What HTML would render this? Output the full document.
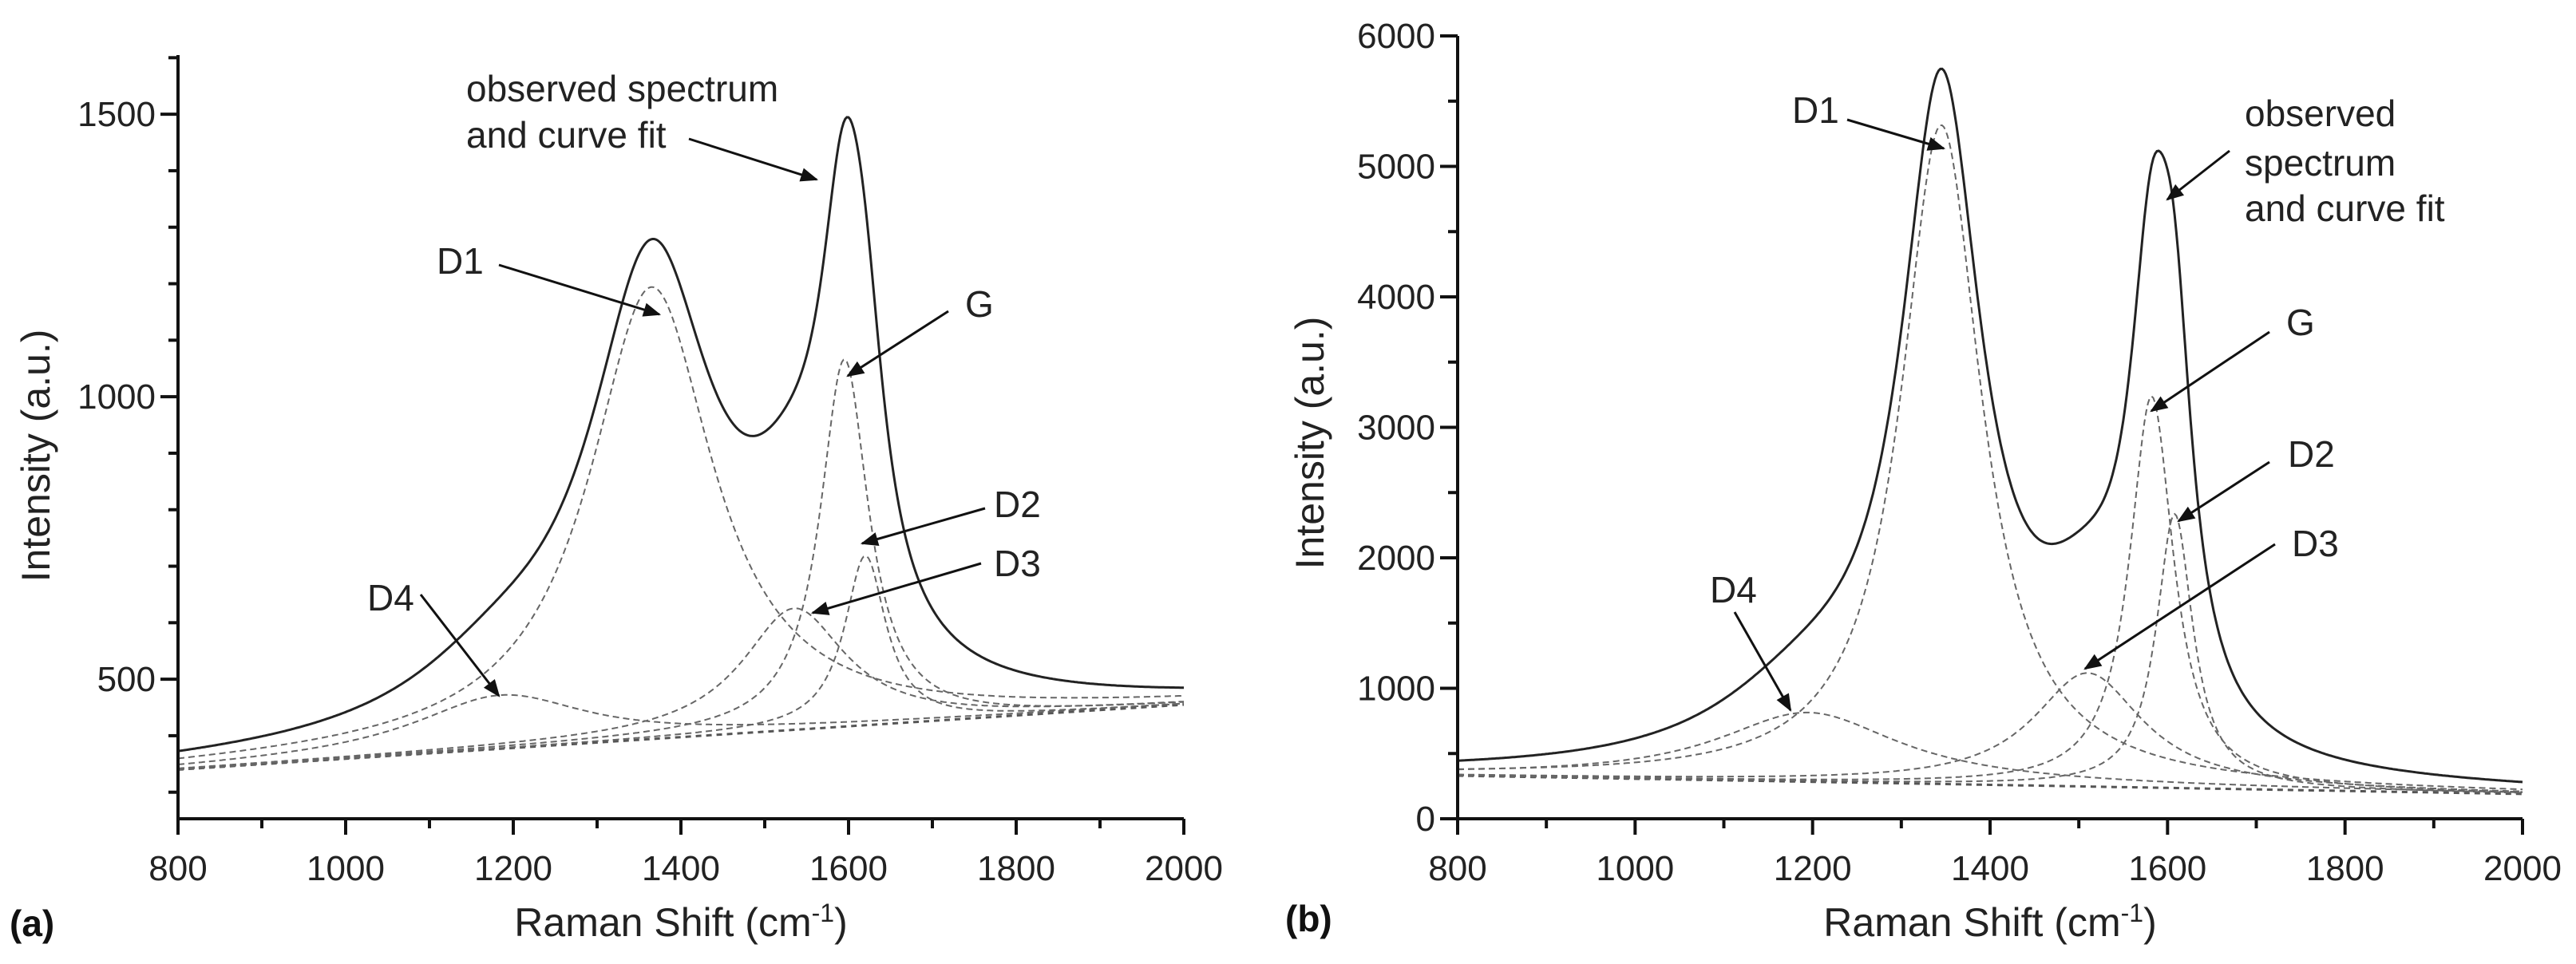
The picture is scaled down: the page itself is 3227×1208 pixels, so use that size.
<!DOCTYPE html>
<html><head><meta charset="utf-8">
<style>
html,body{margin:0;padding:0;background:#fff;}
svg{display:block;font-family:"Liberation Sans",sans-serif;}
</style></head>
<body>
<svg id="fig" width="3227" height="1208" viewBox="0 0 3227 1208" xmlns="http://www.w3.org/2000/svg">
<defs>
<marker id="ah2" viewBox="0 0 10 10" refX="9" refY="5" markerWidth="26" markerHeight="22" orient="auto" markerUnits="userSpaceOnUse">
<path d="M0,1 L10,5 L0,9 Z" fill="#111"/>
</marker>
</defs>
<g id="panelA"></g>
<g id="panelB"></g>
</svg>
<script>
// ---------- Panel (a) data ----------
const aXTicks = [800,1000,1200,1400,1600,1800,2000];
const aYTicks = [500,1000,1500];
const aBaseline = [340, 455];
const aPeakNames = ["D4","D1","D3","G","D2"];
const aCenters = [1185,1365,1535,1595,1620];
const aHeights = [95,800,215,650,300];
const aWidths = [250,180,150,70,60];
// ---------- Panel (b) data ----------
const bXTicks = [800,1000,1200,1400,1600,1800,2000];
const bYTicks = [0,1000,2000,3000,4000,5000,6000];
const bBaseline = [330, 190];
const bPeakNames = ["D4","D1","D3","G","D2"];
const bCenters = [1195,1345,1510,1582,1608];
const bHeights = [530,5050,870,3000,2100];
const bWidths = [250,110,150,60,50];

const NS = "http://www.w3.org/2000/svg";
function mk(parent, tag, attrs){
  const e = document.createElementNS(NS, tag);
  for (const k in attrs) e.setAttribute(k, attrs[k]);
  parent.appendChild(e);
  return e;
}
function lor(x,c,h,w){ const t=(x-c)/(w/2); return h/(1+t*t); }

function drawPanel(g, cfg){
  const xs = v => cfg.x0 + (v-800)/(2000-800)*(cfg.x1-cfg.x0);
  const ys = v => cfg.yb - (v-cfg.ymin)/(cfg.ymax-cfg.ymin)*(cfg.yb-cfg.yt);
  const base = x => cfg.base[0] + (cfg.base[1]-cfg.base[0])*(x-800)/1200;
  let d="";
  for(let x=800;x<=2000;x+=5){ d += (x===800?"M":"L")+xs(x).toFixed(1)+","+ys(base(x)).toFixed(1); }
  let p = mk(g,"path",{d:d,fill:"none",stroke:"#555","stroke-width":3,"stroke-dasharray":"7 6"});
  
  
  for(let i=0;i<cfg.c.length;i++){
    let dd="";
    for(let x=800;x<=2000;x+=2){
      const v = base(x)+lor(x,cfg.c[i],cfg.h[i],cfg.w[i]);
      dd += (x===800?"M":"L")+xs(x).toFixed(1)+","+ys(v).toFixed(1);
    }
    const cp = mk(g,"path",{d:dd,fill:"none",stroke:"#666","stroke-width":2,"stroke-dasharray":"8 5"});
    
    
  }
  let dt="";
  for(let x=800;x<=2000;x+=2){
    let v=base(x);
    for(let i=0;i<cfg.c.length;i++) v+=lor(x,cfg.c[i],cfg.h[i],cfg.w[i]);
    dt += (x===800?"M":"L")+xs(x).toFixed(1)+","+ys(v).toFixed(1);
  }
  const tp = mk(g,"path",{d:dt,fill:"none",stroke:"#222","stroke-width":3});
  
  
  const ax = mk(g,"path",{d:`M${cfg.x0},${cfg.yt} L${cfg.x0},${cfg.yb} L${cfg.x1},${cfg.yb}`,fill:"none",stroke:"#111","stroke-width":4});
  
  
  for(let v=800; v<=2000; v+=100){
    const major = cfg.xt.includes(v);
    mk(g,"line",{x1:xs(v),x2:xs(v),y1:cfg.yb,y2:cfg.yb+(major?20:12),stroke:"#111","stroke-width":4});
  }
  cfg.xt.forEach(v=>{
    const t = mk(g,"text",{x:xs(v),y:cfg.yb+77,"text-anchor":"middle","font-size":44,fill:"#222"});
    t.textContent = v;
    
    
  });
  for(let v=cfg.ymin0; v<=cfg.ymax+1e-6; v+=cfg.minor){
    if (ys(v) < cfg.yt-1 || ys(v)>cfg.yb) continue;
    const major = cfg.yt2.includes(v);
    mk(g,"line",{x1:cfg.x0,x2:cfg.x0-(major?22:12),y1:ys(v),y2:ys(v),stroke:"#111","stroke-width":4});
  }
  cfg.yt2.forEach(v=>{
    const t = mk(g,"text",{x:cfg.x0-28,y:ys(v)+15,"text-anchor":"end","font-size":44,fill:"#222"});
    t.textContent = v;
    
    
  });
}

const gA=document.getElementById('panelA'), gB=document.getElementById('panelB');
drawPanel(gA,{x0:223,x1:1483,yb:1026,yt:69,ymin:253,ymax:253+(1026-69)/354*500,ymin0:300,minor:100,
  base:aBaseline,c:aCenters,h:aHeights,w:aWidths,names:aPeakNames,xt:aXTicks,yt2:aYTicks});
drawPanel(gB,{x0:1826,x1:3160,yb:1026,yt:45,ymin:0,ymax:6000,ymin0:0,minor:500,
  base:bBaseline,c:bCenters,h:bHeights,w:bWidths,names:bPeakNames,xt:bXTicks,yt2:bYTicks});

function label(g,x,y,txt,name){
  const t=mk(g,"text",{x:x,y:y,"font-size":46,fill:"#222"});
  t.textContent=txt;
  
  
}
function arrow(g,x1,y1,x2,y2,name){
  const l=mk(g,"line",{x1:x1,y1:y1,x2:x2,y2:y2,stroke:"#111","stroke-width":3,"marker-end":"url(#ah2)"});
  
  
}
label(gA,584,127,"observed spectrum","label-observed-a");
label(gA,584,185,"and curve fit","label-curve-fit-a");
arrow(gA,863,174,1023,225,"arrow-observed-a");
label(gA,547,343,"D1","label-d1-a"); arrow(gA,625,332,826,394,"arrow-d1-a");
label(gA,1209,397,"G","label-g-a"); arrow(gA,1188,390,1062,471,"arrow-g-a");
label(gA,1245,648,"D2","label-d2-a"); arrow(gA,1234,637,1080,681,"arrow-d2-a");
label(gA,1245,722,"D3","label-d3-a"); arrow(gA,1229,706,1018,768,"arrow-d3-a");
label(gA,460,765,"D4","label-d4-a"); arrow(gA,527,745,625,872,"arrow-d4-a");
label(gB,2245,154,"D1","label-d1-b"); arrow(gB,2314,150,2435,186,"arrow-d1-b");
label(gB,2812,158,"observed","label-observed-b");
label(gB,2812,220,"spectrum","label-spectrum-b");
label(gB,2812,277,"and curve fit","label-curve-fit-b");
arrow(gB,2793,189,2715,250,"arrow-observed-b");
label(gB,2864,420,"G","label-g-b"); arrow(gB,2843,416,2695,515,"arrow-g-b");
label(gB,2866,585,"D2","label-d2-b"); arrow(gB,2843,579,2729,653,"arrow-d2-b");
label(gB,2871,697,"D3","label-d3-b"); arrow(gB,2850,682,2612,838,"arrow-d3-b");
label(gB,2142,755,"D4","label-d4-b"); arrow(gB,2173,767,2243,890,"arrow-d4-b");

const fig=document.getElementById('fig');
function T(x,y,txt,attrs,name){
  const t=document.createElementNS(NS,"text");
  t.setAttribute('x',x);t.setAttribute('y',y);
  for(const k in attrs) t.setAttribute(k,attrs[k]);
  t.innerHTML=txt;
  
  
  fig.appendChild(t);
}
T(853,1173,'Raman Shift (cm<tspan font-size="32" dy="-18">-1</tspan><tspan dy="18">)</tspan>',{"text-anchor":"middle","font-size":50,fill:"#222"},"x-axis-title-a");
T(2493,1173,'Raman Shift (cm<tspan font-size="32" dy="-18">-1</tspan><tspan dy="18">)</tspan>',{"text-anchor":"middle","font-size":50,fill:"#222"},"x-axis-title-b");
T(0,0,'Intensity (a.u.)',{"text-anchor":"middle","font-size":50,fill:"#222",transform:"translate(62,571) rotate(-90)"},"y-axis-title-a");
T(0,0,'Intensity (a.u.)',{"text-anchor":"middle","font-size":50,fill:"#222",transform:"translate(1658,555) rotate(-90)"},"y-axis-title-b");
T(12,1173,'(a)',{"font-size":46,"font-weight":"bold",fill:"#111"},"panel-label-a");
T(1610,1167,'(b)',{"font-size":46,"font-weight":"bold",fill:"#111"},"panel-label-b");
</script>
</body></html>
